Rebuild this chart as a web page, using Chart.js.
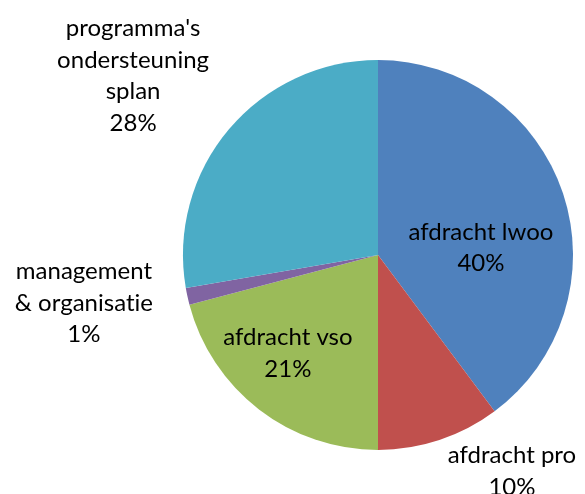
<!DOCTYPE html>
<html>
<head>
<meta charset="utf-8">
<script src="https://cdn.jsdelivr.net/npm/chart.js@4"></script>
<style>
  html, body { margin: 0; padding: 0; background: #ffffff; }
  #wrap { width: 585px; height: 494px; position: relative; }
</style>
</head>
<body>
<div id="wrap"><canvas id="c" width="585" height="494"></canvas></div>
<script>
// Data
const categories = ["afdracht lwoo", "afdracht pro", "afdracht vso", "management & organisatie", "programma's ondersteuning splan"];
const values = [39.8, 10.2, 20.9, 1.4, 27.7];
const percentLabels = ["40%", "10%", "21%", "1%", "28%"];
const labelLines = [["afdracht lwoo"], ["afdracht pro"], ["afdracht vso"], ["management", "& organisatie"], ["programma's", "ondersteuning", "splan"]];
const colors = ["#4F81BD", "#C0504D", "#9BBB59", "#8064A2", "#4BACC6"];

// label placement relative to the pie centre, in units of the radius (layout only)
const labelOffsets = [[0.528, -0.038], [0.687, 1.108], [-0.462, 0.503], [-1.508, 0.246], [-1.256, -0.918]];

const FONT = '24px Lato, "Open Sans", sans-serif';
const LINE_H = 31.5;

const labelPlugin = {
  id: 'pieLabels',
  afterDatasetsDraw(chart) {
    const ctx = chart.ctx;
    const meta = chart.getDatasetMeta(0);
    const arc0 = meta.data[0];
    const cx = arc0.x, cy = arc0.y, r = arc0.outerRadius;
    ctx.save();
    ctx.font = FONT;
    if ('letterSpacing' in ctx) ctx.letterSpacing = '0.01px';
    ctx.fillStyle = '#000000';
    ctx.textAlign = 'center';
    ctx.textBaseline = 'middle';
    meta.data.forEach((arc, i) => {
      const lines = labelLines[i].concat([percentLabels[i]]);
      const x = cx + labelOffsets[i][0] * r;
      const y = cy + labelOffsets[i][1] * r;
      const total = (lines.length - 1) * LINE_H;
      lines.forEach((t, k) => {
        ctx.fillText(t, x, y - total / 2 + k * LINE_H);
      });
    });
    ctx.restore();
  }
};

new Chart(document.getElementById('c'), {
  type: 'pie',
  data: {
    labels: categories,
    datasets: [{
      data: values,
      backgroundColor: colors,
      borderWidth: 0
    }]
  },
  options: {
    responsive: false,
    animation: false,
    layout: { padding: { left: 183, right: 12, top: 60, bottom: 44 } },
    plugins: {
      legend: { display: false },
      tooltip: { enabled: false }
    }
  },
  plugins: [labelPlugin]
});
</script>
</body>
</html>
